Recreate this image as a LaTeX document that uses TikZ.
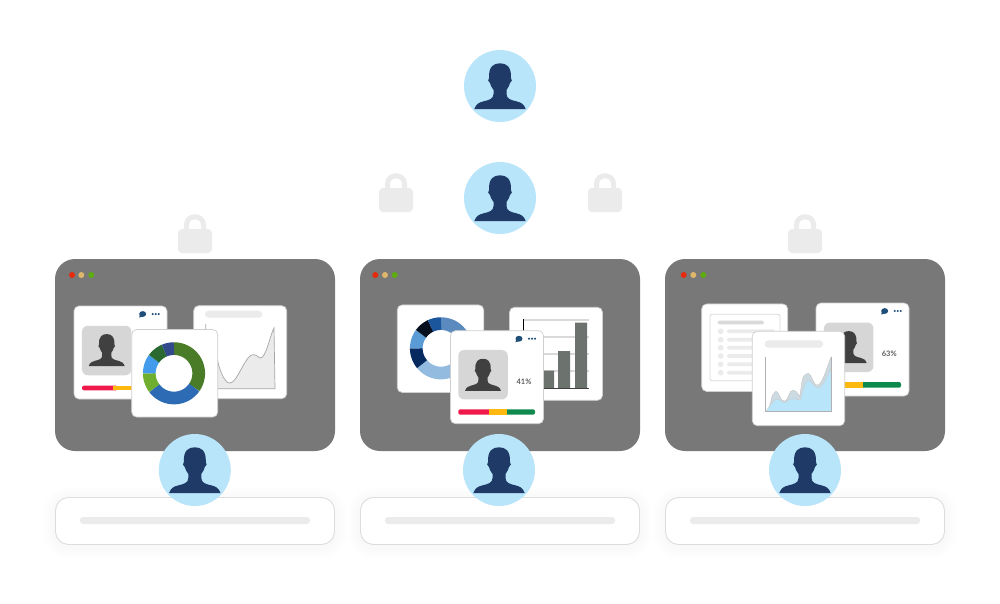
\documentclass[tikz,border=0pt]{standalone}
\usepackage{fontspec}
\setmainfont{Lato}
\usetikzlibrary{positioning}
\definecolor{winGrey}{HTML}{787878}
\definecolor{paleGrey}{HTML}{EBEBEB}
\definecolor{edgeGrey}{HTML}{CFCFCF}
\definecolor{avatarBlue}{HTML}{B9E5FB}
\definecolor{avatarNavy}{HTML}{1F3A66}
\definecolor{iconNavy}{HTML}{1F4E79}
\definecolor{headGrey}{HTML}{404040}
\definecolor{tileGrey}{HTML}{D6D6D6}
\definecolor{barRed}{HTML}{F0194B}
\definecolor{barYellow}{HTML}{FDB90F}
\definecolor{barGreen}{HTML}{0E8A4F}
\definecolor{columnGrey}{HTML}{6C736E}
\definecolor{dotRed}{HTML}{E52B0C}
\definecolor{dotSand}{HTML}{DFB76A}
\definecolor{dotGreen}{HTML}{5CAB0F}
\definecolor{ringA}{HTML}{4A7C28}
\definecolor{ringB}{HTML}{2D6CB5}
\definecolor{ringC}{HTML}{6FAE2F}
\definecolor{ringD}{HTML}{429CEB}
\definecolor{ringE}{HTML}{2A6A30}
\definecolor{ringF}{HTML}{324A8C}
\definecolor{ringG}{HTML}{5B8ABF}
\definecolor{ringH}{HTML}{93BBDF}
\definecolor{ringI}{HTML}{06295F}
\definecolor{ringJ}{HTML}{5A9BD5}
\definecolor{ringK}{HTML}{050F1E}
\definecolor{ringL}{HTML}{1B569C}
\tikzset{
  window/.style={fill=winGrey, rounded corners=20pt, minimum width=280pt, minimum height=192pt, inner sep=0pt, outer sep=0pt},
  footbar/.style={fill=white, draw=edgeGrey!70, line width=0.9pt, rounded corners=13pt, minimum width=279pt, minimum height=47pt, inner sep=0pt},
  panel/.style={fill=white, draw=edgeGrey, line width=0.7pt, rounded corners=5pt, minimum width=#1, minimum height=#1, inner sep=0pt},
  panel/.default=93pt,
  avatar/.style={circle, fill=avatarBlue, minimum size=72pt, inner sep=0pt},
  tile/.style={fill=tileGrey, rounded corners=6pt, minimum size=49.5pt, inner sep=0pt},
  percent/.style={font=\fontsize{7.5}{9}\selectfont\bfseries, text=headGrey!85, inner sep=0pt},
  pics/silhouette/.style={code={
    \fill[#1] (-25.7,23) .. controls (-24,18) and (-21,16.5) .. (-17,15.5)
      .. controls (-11,14) and (-6.5,13) .. (-6.5,8) -- (-6.5,4)
      .. controls (-8.5,1.5) and (-9.5,-1) .. (-10,-3)
      .. controls (-12,-3.5) and (-12.5,-7) .. (-11,-8)
      .. controls (-11.5,-20) and (-6,-22.7) .. (0,-22.7)
      .. controls (6,-22.7) and (11.5,-20) .. (11,-8)
      .. controls (12.5,-7) and (12,-3.5) .. (10,-3)
      .. controls (9.5,-1) and (8.5,1.5) .. (6.5,4) -- (6.5,8)
      .. controls (6.5,13) and (11,14) .. (17,15.5)
      .. controls (21,16.5) and (24,18) .. (25.7,23) -- cycle;
  }},
  pics/padlock/.style={code={
    \draw[paleGrey, line width=5pt] (-8.5,16) -- (-8.5,11) .. controls (-8.5,0) and (8.5,0) .. (8.5,11) -- (8.5,16);
    \fill[paleGrey, rounded corners=4pt] (-17,15) rectangle (17,39);
  }},
  pics/statusicons/.style={code={
    \fill[iconNavy] (0,0) ellipse (3.5pt and 2.9pt);
    \fill[iconNavy] (-3,1) -- (-3.4,3.6) -- (0,2.4) -- cycle;
    \foreach \dx in {10,13,16} \fill[iconNavy] (\dx,0) circle (1.2pt);
  }},
}
% window buttons
\newcommand{\windowdots}[3]{
  \fill[dotRed] (#1,275) circle (3pt);
  \fill[dotSand] (#2,275) circle (3pt);
  \fill[dotGreen] (#3,275) circle (3pt);
}
% ring made of thick arcs: centre x, centre y, list of from/to/colour
\newcommand{\donut}[3]{
  \foreach \from/\to/\col in {#3}
    \draw[line width=12.7pt, color=\col] plot[domain=\from:\to, samples=24, smooth] ({#1+24.7*cos(\x)},{#2+24.7*sin(\x)});
}
\begin{document}
\begin{tikzpicture}[x=1pt, y=-1pt]
  \useasboundingbox (0,0) rectangle (1000,603);
  \fill[white] (0,0) rectangle (1000,603);

  \node[window] (winA) at (195,355) {};
  \node[window] (winB) at (500,355) {};
  \node[window] (winC) at (805,355) {};
  \windowdots{72}{81.3}{91.3}
  \windowdots{375.3}{385}{394.7}
  \windowdots{683.7}{693.3}{703.3}

  % footers with a soft shadow
  \foreach \cx/\name in {195/footA, 500/footB, 805/footC} {
    \foreach \grow in {2,4,...,12}
      \fill[black, opacity=0.0035, rounded corners=14pt+\grow*1pt] (\cx-140-\grow,497-\grow+2) rectangle (\cx+140+\grow,545+\grow+2);
    \node[footbar] (\name) at (\cx,521) {};
    \fill[paleGrey, rounded corners=3pt] (\cx-115,517) rectangle (\cx+115,524);
  }

  \pic at (396,173) {padlock};
  \pic at (605,173) {padlock};
  \pic at (195,214) {padlock};
  \pic at (805,214) {padlock};

  % left window
  \node[panel] (cardA) at (120.5,352.5) {};
  \node[tile] (tileA) at (106.7,350.5) {};
  \pic[scale=0.7] at (106.7,350) {silhouette=headGrey};
  \pic at (142.7,314) {statusicons};
  \fill[barRed, rounded corners=2pt] (82,385.7) rectangle (118,390.3);
  \fill[barYellow] (113,385.7) rectangle (135,390.3);

  \node[panel] (curveA) at (240.2,352.2) {};
  \fill[paleGrey, rounded corners=3.5pt] (205,310.7) rectangle (262.3,317.7);
  \fill[paleGrey] (205.7,388.7) -- (205.7,340) -- (217,358.5) .. controls (220,372) and (225,383) .. (229.5,383)
    .. controls (236,383) and (241,367) .. (248,358) .. controls (252,353) and (255,354) .. (260,358)
    .. controls (266,359) and (270,335) .. (274,328) -- (275,388.7) -- cycle;
  \draw[gray!70, line width=0.7pt] (217,358.5) .. controls (220,372) and (225,383) .. (229.5,383)
    .. controls (236,383) and (241,367) .. (248,358) .. controls (252,353) and (255,354) .. (260,358)
    .. controls (266,359) and (270,335) .. (274,328) -- (275,388.7) -- (205.7,388.7) -- (205.7,324);

  \node[panel=86pt, minimum height=87.5pt] (donutA) at (174.7,373.3) {};
  \donut{174}{373.3}{-90/35/ringA, 35/143/ringB, 143/180/ringC, 180/216/ringD, 216/247/ringE, 247/270/ringF}

  % middle window
  \node[panel=86.5pt, minimum height=87.5pt] (donutB) at (440.5,348.7) {};
  \donut{441}{348.3}{-90/40/ringG, 40/140/ringH, 140/180/ringI, 180/216/ringJ, 216/245/ringK, 245/270/ringL}

  \node[panel] (barsB) at (556,353.8) {};
  \foreach \gy in {320,337,354,371}
    \draw[gray!30, line width=1.3pt] (523.3,\gy) -- (589,\gy);
  \draw[black, line width=0.8pt] (523.3,319.3) -- (523.3,388);
  \fill[columnGrey] (543,370.7) rectangle (554,388) (558,351) rectangle (570,388) (575,322.7) rectangle (587,388);
  \draw[headGrey, line width=0.8pt] (523.3,388) -- (589,388);

  \node[panel] (cardB) at (497,377.2) {};
  \node[tile] (tileB) at (483,374.7) {};
  \pic[scale=0.7] at (483,374.7) {silhouette=headGrey};
  \pic at (519,338.7) {statusicons};
  \node[percent] (valueB) at (524,381.3) {41\%};
  \fill[barRed, rounded corners=2pt] (458.3,409.3) rectangle (492,414.7);
  \fill[barGreen, rounded corners=2pt] (503,409.3) rectangle (535,414.7);
  \fill[barYellow] (489.3,409.3) rectangle (507,414.7);

  % right window
  \node[panel=86pt, minimum height=87.5pt] (listC) at (744.7,347.7) {};
  \draw[edgeGrey!80, line width=0.8pt, rounded corners=2pt] (710,314.3) rectangle (780,380.7);
  \fill[tileGrey!90, rounded corners=1.5pt] (717.7,320.7) rectangle (764,324.3);
  \foreach \ry in {331.3,339.7,347.7,356,364.3,372.7} {
    \fill[paleGrey] (720.7,\ry) circle (2.8pt);
    \fill[paleGrey, rounded corners=1.5pt] (727,\ry-1.9) rectangle (775,\ry+1.9);
  }

  \node[panel] (cardC) at (862.5,349.5) {};
  \node[tile] (tileC) at (848.7,347.3) {};
  \pic[scale=0.7] at (848.7,347) {silhouette=headGrey};
  \pic at (884.7,311) {statusicons};
  \node[percent] (valueC) at (889.3,353.7) {63\%};
  \fill[barGreen, rounded corners=2pt] (855,382) rectangle (901,387.7);
  \fill[barYellow] (840,382) rectangle (862.7,387.7);

  \node[panel=92.4pt, minimum height=94.4pt] (curveC) at (798.5,378.5) {};
  \fill[paleGrey, rounded corners=3.5pt] (764.7,340.3) rectangle (823,347.7);
  \fill[avatarBlue!60!gray!55!white, draw=gray!45, line width=0.5pt] (765.7,411.7) .. controls (771,409) and (771,395) .. (773.5,394)
    .. controls (776,389) and (778,392) .. (780,397) .. controls (783,403) and (786,403) .. (789,395)
    .. controls (791,388) and (796,389) .. (799,396) .. controls (801,398) and (801,376) .. (805,375)
    .. controls (811,370) and (811,379) .. (815,384) .. controls (821,390) and (825,372) .. (831,357.5) -- (831.7,411.7) -- cycle;
  \fill[avatarBlue, draw=gray!40, line width=0.4pt] (765.7,411.7) .. controls (770,406) and (773,400) .. (777,399)
    .. controls (780,399) and (783,404) .. (786,402) .. controls (790,397) and (796,399) .. (800,400)
    .. controls (803,392) and (805,380) .. (809,380) .. controls (812,382) and (814,387) .. (818,388)
    .. controls (823,387) and (827,376) .. (831,368) -- (831.7,411.7) -- cycle;
  \draw[gray!60, line width=0.7pt] (765.7,357.3) -- (765.7,411.7) -- (831.7,411.7) -- (831.7,357.3);

  % people
  \node[avatar] (topUser) at (500,86) {};
  \node[avatar] (midUser) at (500,198) {};
  \node[avatar] (userA) at (194.8,470) {};
  \node[avatar] (userB) at (499,470) {};
  \node[avatar] (userC) at (805,470) {};
  \foreach \who in {topUser, midUser, userA, userB, userC}
    \pic at (\who) {silhouette=avatarNavy};
\end{tikzpicture}
\end{document}
